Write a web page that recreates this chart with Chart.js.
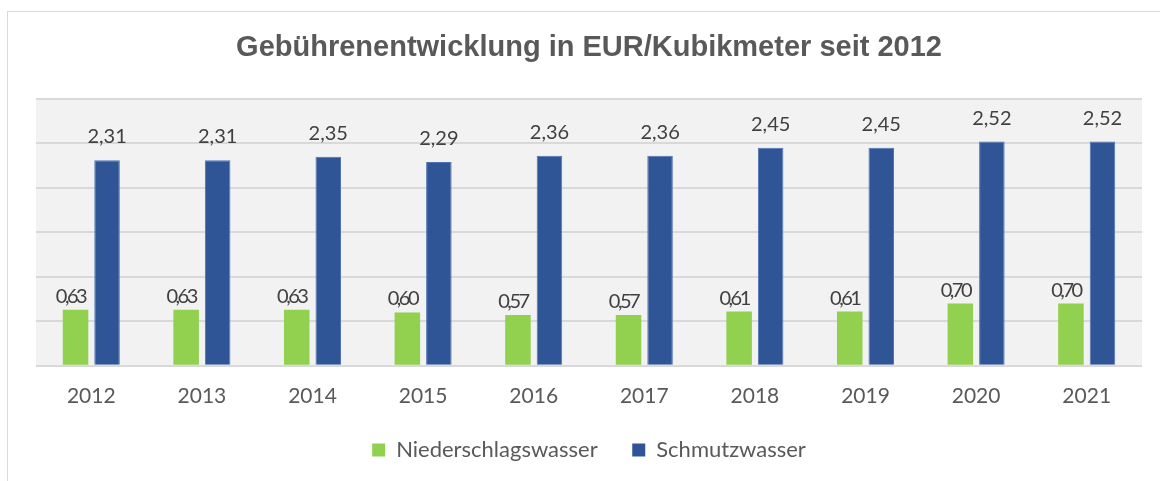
<!DOCTYPE html>
<html lang="de">
<head>
<meta charset="utf-8">
<title>Gebührenentwicklung</title>
<script src="https://cdn.jsdelivr.net/npm/chart.js@4/dist/chart.umd.min.js"></script>
<style>
    html, body { margin: 0; padding: 0; background: #fff; overflow: hidden; }
    #rahmen {
        position: absolute; left: 7px; top: 11px;
        width: 1200px; height: 520px;
        border: 1px solid #d9d9d9;
    }
    #wrap { position: absolute; left: 0; top: 0; width: 1160px; height: 481px; }
</style>
</head>
<body>
<div id="rahmen"></div>
<div id="wrap"><canvas id="gebuehrenChart"></canvas></div>
<script>
// Jahre und Gebühren (EUR je Kubikmeter)
const jahre = ['2012', '2013', '2014', '2015', '2016', '2017', '2018', '2019', '2020', '2021'];
const niederschlagswasser = [0.63, 0.63, 0.63, 0.60, 0.57, 0.57, 0.61, 0.61, 0.70, 0.70];
const schmutzwasser = [2.31, 2.31, 2.35, 2.29, 2.36, 2.36, 2.45, 2.45, 2.52, 2.52];

const schrift = 'Lato, "Open Sans", sans-serif';
const grau = '#595959';

// grauer Hintergrund der Zeichenfläche
const hintergrund = {
    id: 'hintergrund',
    beforeDraw(chart) {
        const { ctx, chartArea } = chart;
        ctx.save();
        ctx.fillStyle = '#f2f2f2';
        ctx.fillRect(chartArea.left, chartArea.top, chartArea.right - chartArea.left, chartArea.bottom - chartArea.top);
        ctx.restore();
    }
};

// Werte über den Säulen (mit Komma)
const werte = {
    id: 'werte',
    afterDatasetsDraw(chart) {
        const ctx = chart.ctx;
        ctx.save();
        ctx.fillStyle = '#404040';
        ctx.font = '20px ' + schrift;
        ctx.textAlign = 'center';
        ctx.textBaseline = 'alphabetic';
        chart.data.datasets.forEach((ds, i) => {
            const meta = chart.getDatasetMeta(i);
            meta.data.forEach((bar, j) => {
                const text = ds.data[j].toFixed(2).replace('.', ',');
                if (i === 0) {
                    ctx.letterSpacing = '-2.5px';
                    ctx.fillText(text, bar.x - 5, bar.y - 7);
                } else {
                    ctx.letterSpacing = '0px';
                    ctx.fillText(text, bar.x, bar.y - 17);
                }
            });
        });
        ctx.restore();
    }
};

const data = {
    labels: jahre,
    datasets: [{
        label: 'Niederschlagswasser',
        data: niederschlagswasser,
        backgroundColor: '#92d050',
        categoryPercentage: 0.57,
        barPercentage: 0.81
    }, {
        label: 'Schmutzwasser',
        data: schmutzwasser,
        backgroundColor: '#2f5597',
        borderColor: '#4f73b3',
        borderWidth: 1,
        categoryPercentage: 0.57,
        barPercentage: 0.81
    }]
};

// Legende: etwas mehr Abstand zwischen den Einträgen
const defaultLabels = Chart.defaults.plugins.legend.labels.generateLabels;
function legendeLabels(chart) {
    const items = defaultLabels(chart);
    items.forEach((item, i) => {
        if (i < items.length - 1) item.text = item.text + '    ';
        item.lineWidth = 0;
    });
    return items;
}

const config = {
    type: 'bar',
    data: data,
    options: {
        responsive: false,
        animation: false,
        layout: {
            padding: { left: 36, right: 18, top: 0, bottom: 10 }
        },
        scales: {
            x: {
                grid: { display: false, drawTicks: false },
                border: { display: false },
                ticks: {
                    color: grau,
                    font: { family: schrift, size: 21 },
                    padding: 18
                }
            },
            y: {
                min: 0,
                max: 3,
                ticks: { display: false, stepSize: 0.5 },
                grid: { color: '#d9d9d9', lineWidth: 2, drawTicks: false },
                border: { display: false }
            }
        },
        plugins: {
            title: {
                display: true,
                text: 'Gebührenentwicklung in EUR/Kubikmeter seit 2012',
                color: grau,
                font: { family: '"Liberation Sans", Arial, sans-serif', size: 29, weight: 'bold' },
                padding: { top: 31, bottom: 33 }
            },
            legend: {
                position: 'bottom',
                labels: {
                    color: grau,
                    font: { family: schrift, size: 22 },
                    boxWidth: 13,
                    boxHeight: 13,
                    padding: 12,
                    generateLabels: legendeLabels
                }
            },
            tooltip: { enabled: false }
        }
    },
    plugins: [hintergrund, werte]
};

const ctx = document.getElementById('gebuehrenChart');
ctx.width = 1160;
ctx.height = 481;
const myChart = new Chart(ctx, config);
</script>
</body>
</html>
